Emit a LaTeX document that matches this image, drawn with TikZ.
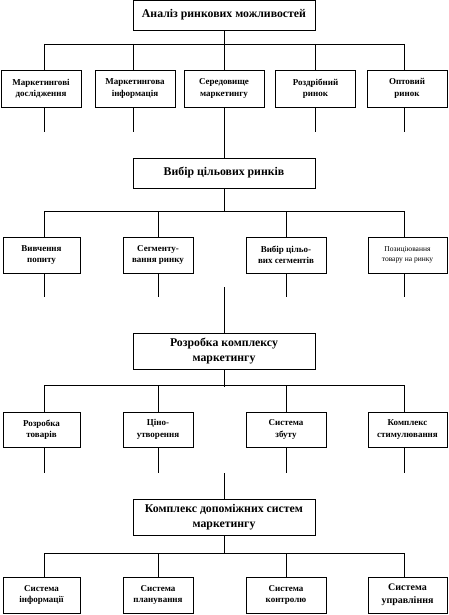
\documentclass[tikz,border=0pt]{standalone}
\usepackage{fontspec}
\setmainfont{Liberation Serif}
\usetikzlibrary{positioning}

\begin{document}
\begin{tikzpicture}[x=1pt,y=-1pt,line width=.8pt,
 head/.style={draw,minimum width=182pt,align=center,inner sep=2pt,font=\fontsize{11.8}{15}\selectfont\bfseries},
 leaf/.style={draw,minimum height=36pt,align=center,inner sep=1pt,font=\fontsize{9}{11.5}\selectfont\bfseries}]
\useasboundingbox (0,0) rectangle (448,615);
% level 1
\node[head,minimum height=30pt] (analiz) at (224,15) {Аналіз ринкових можливостей};
\node[leaf,minimum width=80pt,minimum height=37pt] (doslid) at (41,88.5) {Маркетингові\\дослідження};
\node[leaf,minimum width=80pt,minimum height=37pt] (inform) at (135,88.5) {Маркетингова\\інформація};
\node[leaf,minimum width=80pt,minimum height=37pt] (sered) at (224,88.5) {Середовище\\маркетингу};
\node[leaf,minimum width=80pt,minimum height=37pt] (rozdr) at (315.5,88.5) {Роздрібний\\ринок};
\node[leaf,minimum width=80pt,minimum height=37pt] (optov) at (407,88.5) {Оптовий\\ринок};
\draw (analiz) -- (224,44);
\draw (44,44) -- (404,44);
\foreach \n/\x in {doslid/44,inform/133,sered/224,rozdr/315,optov/404}
  \draw (\x,44) -- (\n.north -| \x,0);
\foreach \n/\x in {doslid/44,inform/133,rozdr/315,optov/404}
  \draw (\n.south -| \x,0) -- (\x,132);
% level 2
\node[head,minimum height=30pt] (vybir) at (224,173) {Вибір цільових ринків};
\draw (sered) -- (vybir);
\node[leaf,minimum width=77pt] (popyt) at (41.5,255) {Вивчення\\попиту};
\node[leaf,minimum width=70pt] (segm) at (158,255) {Сегменту-\\вання ринку};
\node[leaf,minimum width=80pt] (vidbir) at (286,255) {Вибір цільо-\\вих сегментів};
\node[leaf,minimum width=79pt,font=\fontsize{7.5}{10}\selectfont] (pozyc) at (407.5,255) {Позиціювання\\товару на ринку};
\draw (vybir) -- (224,211);
\draw (44,211) -- (404,211);
\foreach \n/\x in {popyt/44,segm/158,vidbir/286,pozyc/404} {
  \draw (\x,211) -- (\n.north -| \x,0);
  \draw (\n.south -| \x,0) -- (\x,297);
}
% level 3
\node[head,minimum height=36pt] (kompl) at (224,351) {Розробка комплексу\\маркетингу};
\draw (224,287) -- (kompl);
\node[leaf,minimum width=77pt,minimum height=35pt] (tovar) at (41.5,429.5) {Розробка\\товарів};
\node[leaf,minimum width=70pt,minimum height=35pt] (tsina) at (158,429.5) {Ціно-\\утворення};
\node[leaf,minimum width=80pt,minimum height=35pt] (zbut) at (286,429.5) {Система\\збуту};
\node[leaf,minimum width=79pt,minimum height=35pt] (stym) at (407.5,429.5) {Комплекс\\стимулювання};
\draw (kompl) -- (224,387);
\draw (44,385) -- (404,385);
\foreach \n/\x in {tovar/44,tsina/158,zbut/286,stym/404} {
  \draw (\x,385) -- (\n.north -| \x,0);
  \draw (\n.south -| \x,0) -- (\x,473);
}
% level 4
\node[head,minimum height=36pt] (dopom) at (224,517) {Комплекс допоміжних систем\\маркетингу};
\draw (224,473) -- (dopom);
\node[leaf,minimum width=77pt] (sinf) at (41.5,595) {Система\\інформації};
\node[leaf,minimum width=70pt] (splan) at (158,595) {Система\\планування};
\node[leaf,minimum width=80pt] (skontr) at (286,595) {Система\\контролю};
\node[leaf,minimum width=79pt,font=\fontsize{10}{12.5}\selectfont\bfseries] (supr) at (407.5,595) {Система\\управління};
\draw (dopom) -- (224,553);
\draw (44,553) -- (404,553);
\foreach \n/\x in {sinf/44,splan/158,skontr/286,supr/404}
  \draw (\x,553) -- (\n.north -| \x,0);
\end{tikzpicture}
\end{document}
